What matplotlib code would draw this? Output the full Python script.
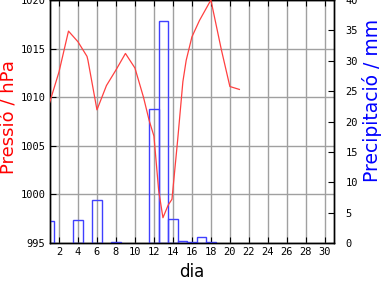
import matplotlib
matplotlib.use("Agg")
import matplotlib.pyplot as plt

# pressure readings (day, hPa)
p_day = [1.0, 2.0, 3.0, 4.0, 4.95, 5.05, 6.0, 7.0, 8.0, 9.0, 10.0, 10.9, 11.5, 12.0,
         12.5, 12.95, 13.5, 13.9, 14.5, 15.05, 15.4, 16.0, 16.8, 18.0, 19.1, 20.0, 21.0]
p_val = [1009.4, 1012.6, 1016.8, 1015.7, 1014.2, 1013.8, 1008.7, 1011.2, 1012.8, 1014.5,
         1013.0, 1010.0, 1007.6, 1006.0, 1000.4, 997.6, 998.9, 999.5, 1005.6, 1011.6,
         1013.8, 1016.2, 1017.9, 1020.0, 1014.9, 1011.1, 1010.8]

# daily precipitation (mm), only days with rain
r_day = [1, 4, 6, 8, 12, 13, 14, 15, 16, 17, 18]
r_val = [3.6, 3.8, 7.0, 0.1, 22.0, 36.5, 3.9, 0.3, 0.1, 1.0, 0.1]

x_ticks = list(range(2, 31, 2))
p_ticks = [995, 1000, 1005, 1010, 1015, 1020]
r_ticks = list(range(0, 41, 5))

fig = plt.figure(figsize=(3.84, 2.88), dpi=100)
ax = fig.add_axes([49.5 / 384, 1 - 243 / 288, (334.3 - 49.5) / 384, 243 / 288])
ax2 = ax.twinx()

mono = "DejaVu Sans Mono"
ax.set_xlim(1, 31)
ax.set_ylim(995, 1020)
ax.set_xticks(x_ticks)
ax.set_yticks(p_ticks)
ax.set_xticklabels([str(t) for t in x_ticks], family=mono, fontsize=7.5)
ax.set_yticklabels([str(t) for t in p_ticks], family=mono, fontsize=7.5)
ax.grid(True, color="#a0a0a0", lw=1)
ax.set_axisbelow(True)
ax.tick_params(direction="in", length=4, top=True, pad=3, color="black")

ax2.bar(r_day, r_val, width=1.0, fill=False, edgecolor="#4040ff", lw=1, zorder=2)
ax2.set_ylim(0, 40)
ax2.set_yticks(r_ticks)
ax2.set_yticklabels([str(t) for t in r_ticks], family=mono, fontsize=7.5)
ax2.tick_params(direction="in", length=4, pad=8)

ax2.plot(p_day, [(v - 995) / 25 * 40 for v in p_val], color="#ff4040", lw=0.9, zorder=3)

ax.set_xlabel("dia", fontsize=12, labelpad=4)
ax.set_ylabel("Pressió / hPa", color="red", fontsize=13, labelpad=1)
ax2.set_ylabel("Precipitació / mm", color="blue", fontsize=13.5, labelpad=3)
ax.yaxis.label.set_y(0.52)
ax2.yaxis.label.set_y(0.585)

for s in ax.spines.values():
    s.set_linewidth(1)
for s in ax2.spines.values():
    s.set_linewidth(1)

fig.savefig("out.png", dpi=100)
